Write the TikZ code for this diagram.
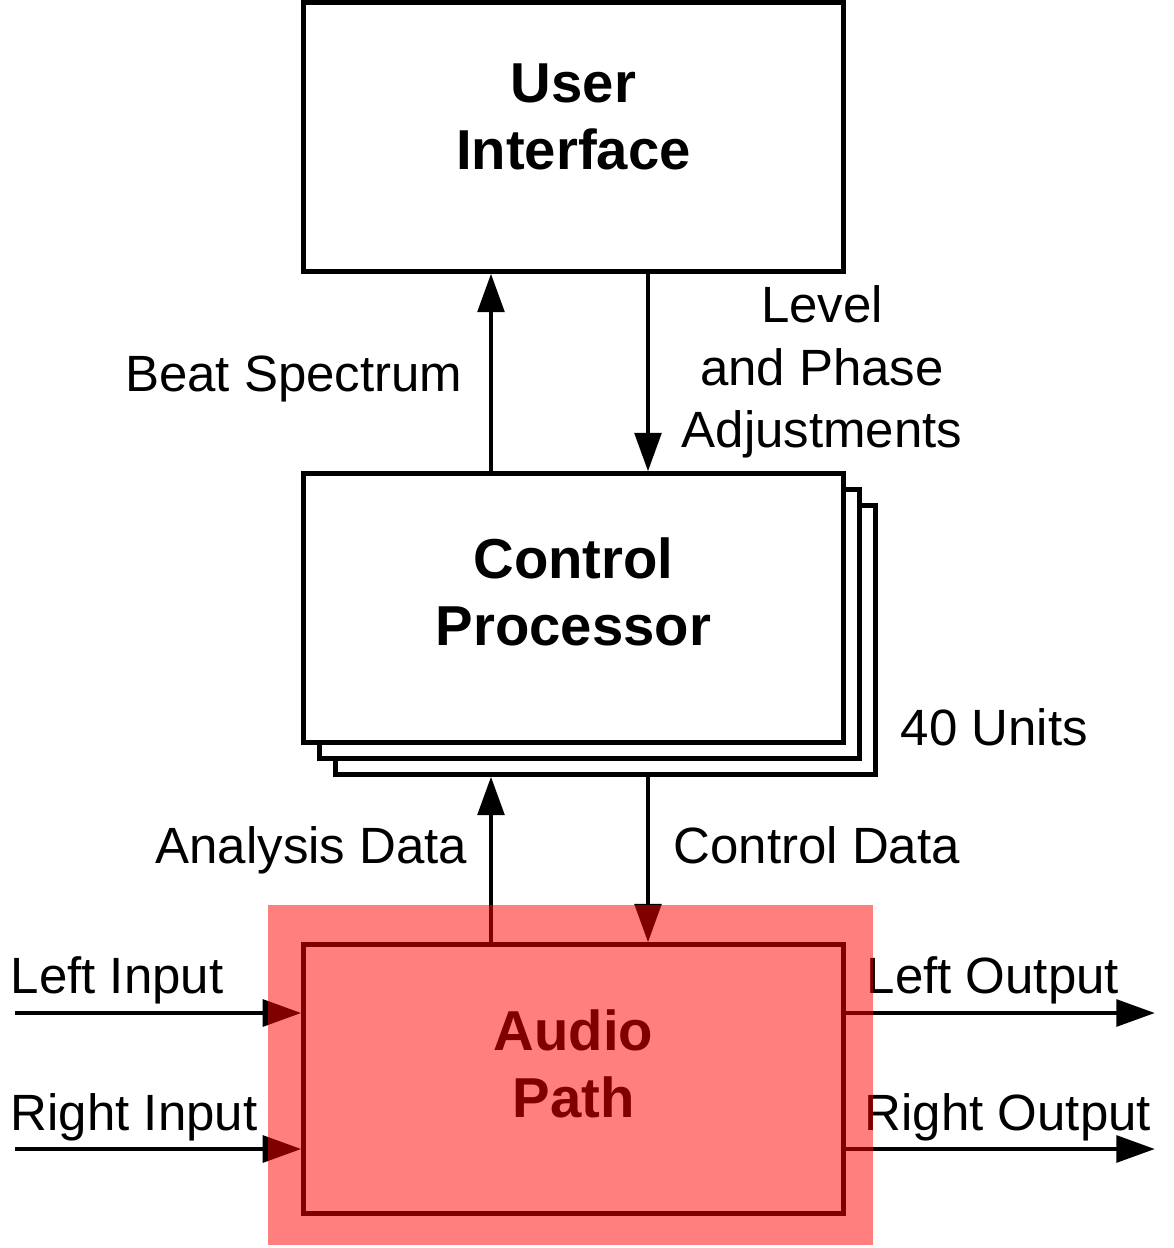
\documentclass[tikz,border=0pt]{standalone}
\usepackage{fontspec}
\setmainfont{Liberation Sans}
\usepackage{xcolor}
\usepackage{tikz}
\usetikzlibrary{calc,arrows.meta}
\definecolor{ink}{HTML}{000000}
\definecolor{hilite}{HTML}{FF0000}
\tikzset{
  box/.style={draw=ink, fill=white, line width=1.4pt, minimum width=5.39cm, minimum height=2.68cm, inner sep=0pt},
  arr/.style={draw=ink, line width=1.4pt, -{Triangle[length=11pt,width=7.5pt]}},
  title/.style={text=ink, font=\fontsize{16}{19}\selectfont\bfseries, align=center},
  lab/.style={text=ink, font=\fontsize{14.5}{17.8}\selectfont, inner sep=0pt},
}
\begin{document}
\begin{tikzpicture}[x=0.01cm, y=-0.01cm]
  \useasboundingbox (0,0) rectangle (1174,1248);

  % user interface
  \node[box] (ui) at (573.5,137) {};
  \node[title] (uit) at (573.5,117) {User\\Interface};

  % control processor, stacked copies
  \node[box] (cp3) at (605.5,640) {};
  \node[box] (cp2) at (589.5,624) {};
  \node[box] (cp) at (573.5,608) {};
  \node[title] (cpt) at (573.5,592) {Control\\Processor};

  % audio path
  \node[box] (ap) at (573.5,1079) {};
  \node[title] (apt) at (573.5,1064) {Audio\\Path};

  % columns of the vertical links
  \coordinate (xl) at (491,0);
  \coordinate (xr) at (648,0);

  % free ends of the audio links
  \coordinate (li) at (15,1013);
  \coordinate (ri) at (15,1149);
  \coordinate (lo) at (1155,1013);
  \coordinate (ro) at (1155,1149);

  % links
  \draw[arr] (cp.north -| xl) -- (ui.south -| xl);
  \draw[arr] (ui.south -| xr) -- (cp.north -| xr);
  \draw[arr] (ap.north -| xl) -- (cp3.south -| xl);
  \draw[arr] (cp3.south -| xr) -- (ap.north -| xr);
  \draw[arr] (li) -- (ap.west |- li);
  \draw[arr] (ri) -- (ap.west |- ri);
  \draw[arr] (ap.east |- lo) -- (lo);
  \draw[arr] (ap.east |- ro) -- (ro);

  % labels
  \node[lab, anchor=base east] (bs) at (463,391) {Beat Spectrum};
  \node[lab, align=center] (lp) at (822,372) {Level\\and Phase\\Adjustments};
  \node[lab, anchor=base west] (un) at (900,745) {40 Units};
  \node[lab, anchor=base east] (ad) at (468,863) {Analysis Data};
  \node[lab, anchor=base west] (cd) at (673,863) {Control Data};
  \node[lab, anchor=base west] (lit) at (10,993) {Left Input};
  \node[lab, anchor=base west] (rit) at (10,1130) {Right Input};
  \node[lab, anchor=base west] (lot) at (866,993) {Left Output};
  \node[lab, anchor=base west] (rot) at (864,1130) {Right Output};

  % highlight over the audio path
  \fill[hilite, fill opacity=0.5] (268,905) rectangle (873,1245);
\end{tikzpicture}
\end{document}
